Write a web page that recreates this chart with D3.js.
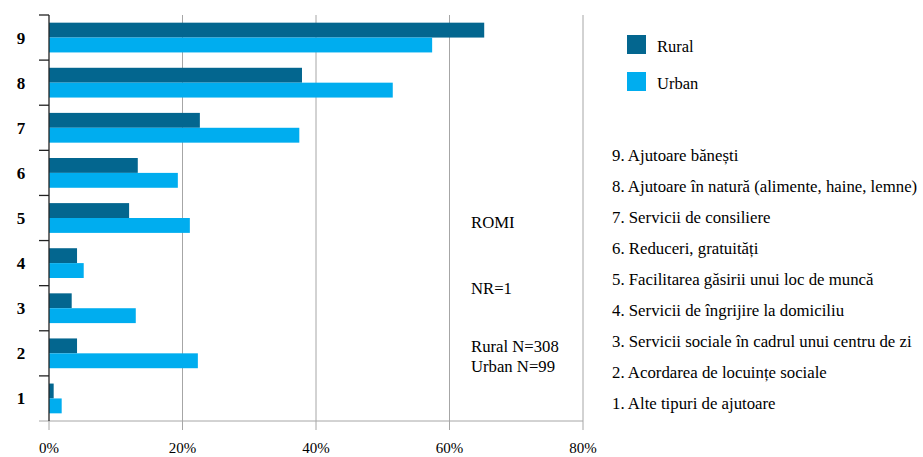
<!DOCTYPE html>
<html>
<head>
<meta charset="utf-8">
<script src="https://cdn.jsdelivr.net/npm/d3@7"></script>
<style>
  body { margin: 0; background: #fff; }
</style>
</head>
<body>
<div id="chart"></div>
<script>
// categories, bottom to top
var categories = ["1", "2", "3", "4", "5", "6", "7", "8", "9"];
var ruralValues = [0.7, 4.2, 3.4, 4.2, 12.0, 13.3, 22.6, 37.9, 65.2];
var urbanValues = [1.9, 22.3, 13.0, 5.2, 21.1, 19.3, 37.5, 51.5, 57.4];
var xTicks = [0, 20, 40, 60, 80];
var seriesNames = ["Rural", "Urban"];
var categoryNames = [
    "9. Ajutoare bănești",
    "8. Ajutoare în natură (alimente, haine, lemne)",
    "7. Servicii de consiliere",
    "6. Reduceri, gratuități",
    "5. Facilitarea găsirii unui loc de muncă",
    "4. Servicii de îngrijire la domiciliu",
    "3. Servicii sociale în cadrul unui centru de zi",
    "2. Acordarea de locuințe sociale",
    "1. Alte tipuri de ajutoare"
];
var notes = ["ROMI", "NR=1", "Rural N=308", "Urban N=99"];

var colors = {Rural: "#03668f", Urban: "#00adef"};

var width = 923, height = 457;
var margin = {top: 15, left: 49};
var plotW = 534, plotH = 406;

var svg = d3.select("#chart").append("svg")
    .attr("width", width)
    .attr("height", height)
    .attr("font-family", "'Liberation Serif', serif")
    .attr("fill", "#000");

var g = svg.append("g").attr("transform", "translate(" + margin.left + "," + margin.top + ")");

var x = d3.scaleLinear().domain([0, 80]).range([0, plotW]);
var y = d3.scaleBand().domain(categories.slice().reverse()).range([0, plotH]).paddingInner(0.34).paddingOuter(0.17);
var ySub = d3.scaleBand().domain(seriesNames).range([0, y.bandwidth()]);

// gridlines
g.selectAll(".grid").data(xTicks.slice(1)).enter().append("line")
    .attr("x1", d => x(d)).attr("x2", d => x(d))
    .attr("y1", 0).attr("y2", plotH + 9)
    .attr("stroke", "#a6a6a6").attr("stroke-width", 1);

// bottom axis line + ticks
g.append("line")
    .attr("x1", -10).attr("x2", plotW)
    .attr("y1", plotH).attr("y2", plotH)
    .attr("stroke", "#a6a6a6");
g.append("line")
    .attr("x1", 0).attr("x2", 0)
    .attr("y1", plotH).attr("y2", plotH + 9)
    .attr("stroke", "#a6a6a6");

g.selectAll(".xlabel").data(xTicks).enter().append("text")
    .attr("x", d => x(d))
    .attr("y", plotH + 32)
    .attr("text-anchor", "middle")
    .style("font-size", "15px")
    .text(d => d + "%");

// bars
var rows = categories.map((c, i) => ({cat: c, Rural: ruralValues[i], Urban: urbanValues[i]}));
var grp = g.selectAll(".cat").data(rows).enter().append("g")
    .attr("transform", d => "translate(0," + y(d.cat) + ")");
grp.selectAll("rect").data(d => seriesNames.map(s => ({s: s, v: d[s]}))).enter().append("rect")
    .attr("x", 0)
    .attr("y", d => ySub(d.s))
    .attr("width", d => x(d.v))
    .attr("height", ySub.bandwidth())
    .attr("fill", d => colors[d.s]);

// left axis
var step = plotH / categories.length;
g.append("line")
    .attr("x1", 0).attr("x2", 0).attr("y1", 0).attr("y2", plotH)
    .attr("stroke", "#222").attr("stroke-width", 1.3);
g.selectAll(".ytick").data(d3.range(categories.length)).enter().append("line")
    .attr("x1", -10).attr("x2", 0)
    .attr("y1", d => d * step).attr("y2", d => d * step)
    .attr("stroke", "#222").attr("stroke-width", 1.3);
g.selectAll(".ylabel").data(categories).enter().append("text")
    .attr("x", -28)
    .attr("y", d => y(d) + y.bandwidth() / 2 + 6)
    .attr("text-anchor", "middle")
    .style("font-size", "17px")
    .style("font-weight", "bold")
    .text(d => d);

// legend
var leg = svg.append("g").attr("transform", "translate(627,35)");
seriesNames.forEach((s, i) => {
    leg.append("rect").attr("x", 0).attr("y", i * 37).attr("width", 19).attr("height", 19).attr("fill", colors[s]);
    leg.append("text").attr("x", 30).attr("y", i * 37 + 17).style("font-size", "16.5px").text(s);
});

// category list
svg.selectAll(".catname").data(categoryNames).enter().append("text")
    .attr("x", 612)
    .attr("y", (d, i) => 161 + i * 31)
    .style("font-size", "16.8px")
    .text(d => d);

// notes
var noteY = [228, 294, 352, 372];
svg.selectAll(".note").data(notes).enter().append("text")
    .attr("x", 471)
    .attr("y", (d, i) => noteY[i])
    .style("font-size", "16.7px")
    .text(d => d);
</script>
</body>
</html>
